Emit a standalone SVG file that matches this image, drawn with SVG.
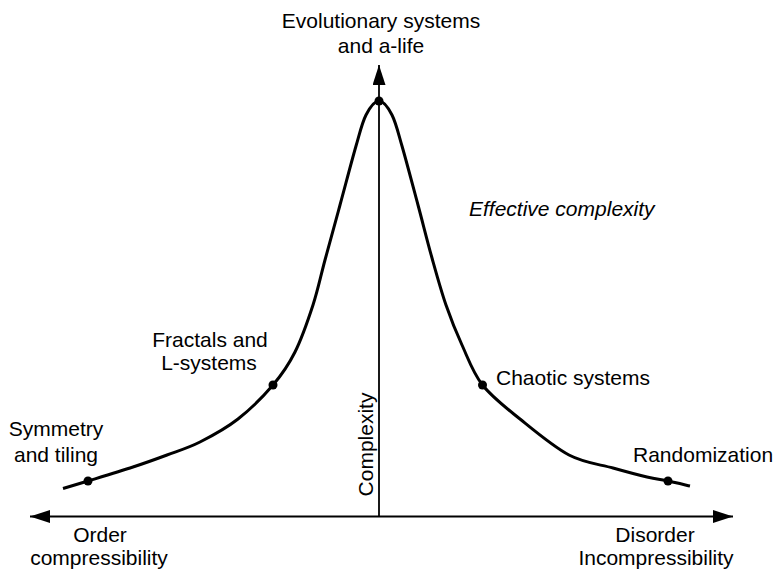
<svg xmlns="http://www.w3.org/2000/svg" width="776" height="571" viewBox="0 0 776 571">
  <style>
    text { font-family: "Liberation Sans", Arial, Helvetica, sans-serif; font-size: 21px; fill: #000; }
    .mid { text-anchor: middle; }
    .it { font-style: italic; }
    .axis { stroke: #000; stroke-width: 1.8; fill: none; }
    .curve { stroke: #000; stroke-width: 3; fill: none; stroke-linecap: butt; stroke-linejoin: round; }
    .dot { fill: #000; }
  </style>
  <defs>
    <marker id="arrow" markerUnits="userSpaceOnUse" markerWidth="20" markerHeight="13" refX="20" refY="6.5" orient="auto-start-reverse">
      <path d="M0,0 L20,6.5 L0,13 Z" fill="#000"/>
    </marker>
  </defs>
  <rect width="776" height="571" fill="#fff"/>

  <g id="connectors">
    <line class="axis" x1="30" y1="516.5" x2="733" y2="516.5" marker-start="url(#arrow)" marker-end="url(#arrow)"/>
    <line class="axis" x1="379" y1="516.5" x2="379" y2="65" marker-end="url(#arrow)"/>
    <path class="curve" d="M63,488.5 C67.17,487.25 76.33,484.58 88,481 C99.67,477.42 119.83,471.33 133,467 C146.17,462.67 155.83,459.17 167,455 C178.17,450.83 188.17,448 200,442 C211.83,436 225.83,428.5 238,419 C250.17,409.5 263.5,396.17 273,385 C282.5,373.83 288.33,365.33 295,352 C301.67,338.67 308,320.33 313,305 C318,289.67 320.5,276.67 325,260 C329.5,243.33 334.83,224 340,205 C345.17,186 351.67,161 356,146 C360.33,131 362.17,122.5 366,115 C369.83,107.5 374.67,101 379,101 C383.33,101 388.17,107.5 392,115 C395.83,122.5 397.67,131 402,146 C406.33,161 413,186.33 418,205 C423,223.67 427.33,241.33 432,258 C436.67,274.67 441,290.5 446,305 C451,319.5 455.92,331.67 462,345 C468.08,358.33 472.83,372.67 482.5,385 C492.17,397.33 505.58,407.33 520,419 C534.42,430.67 553.5,446.83 569,455 C584.5,463.17 600,464.33 613,468 C626,471.67 637.83,474.83 647,477 C656.17,479.17 660.83,479.5 668,481 C675.17,482.5 686.33,485.17 690,486"/>
  </g>

  <g id="node-evolutionary">
    <circle class="dot" cx="379" cy="101" r="4.5"/>
    <text class="mid" x="381" y="28">Evolutionary systems</text>
    <text class="mid" x="381" y="53">and a-life</text>
  </g>

  <g id="node-fractals">
    <circle class="dot" cx="273" cy="385" r="4.5"/>
    <text class="mid" x="210" y="347">Fractals and</text>
    <text class="mid" x="209" y="370">L-systems</text>
  </g>

  <g id="node-symmetry">
    <circle class="dot" cx="88" cy="481" r="4.5"/>
    <text class="mid" x="56" y="436">Symmetry</text>
    <text class="mid" x="56" y="462">and tiling</text>
  </g>

  <g id="node-chaotic">
    <circle class="dot" cx="482.5" cy="385" r="4.5"/>
    <text x="496" y="385">Chaotic systems</text>
  </g>

  <g id="node-randomization">
    <circle class="dot" cx="668" cy="481" r="4.5"/>
    <text x="633" y="462">Randomization</text>
  </g>

  <g id="label-effective">
    <text class="it" x="469" y="216">Effective complexity</text>
  </g>

  <g id="label-complexity">
    <text class="mid" transform="translate(372.5,444.5) rotate(-90)" x="0" y="0">Complexity</text>
  </g>

  <g id="label-order">
    <text class="mid" x="100" y="542">Order</text>
    <text class="mid" x="99" y="565">compressibility</text>
  </g>

  <g id="label-disorder">
    <text class="mid" x="655" y="542">Disorder</text>
    <text class="mid" x="656" y="565">Incompressibility</text>
  </g>
</svg>
